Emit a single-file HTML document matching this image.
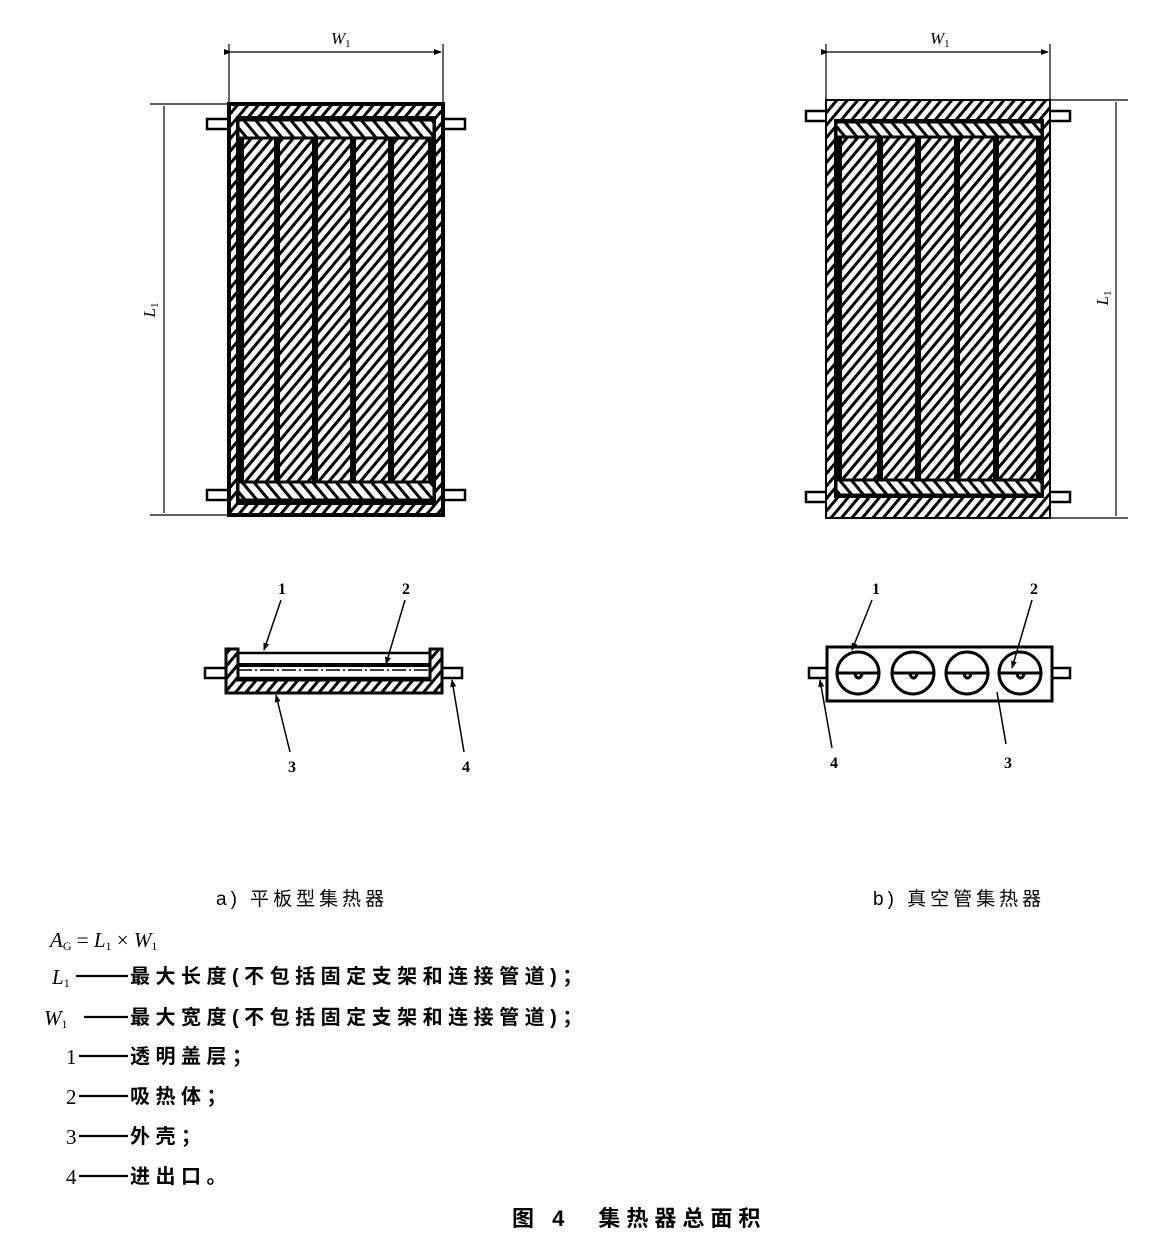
<!DOCTYPE html>
<html><head><meta charset="utf-8"><style>
html,body{margin:0;padding:0;background:#fff;}
svg{display:block}
text{font-family:"Liberation Serif","Noto Serif CJK SC",serif;fill:#000}
text.cj{font-family:"Liberation Sans","Noto Sans CJK SC",sans-serif;font-weight:bold}
</style></head><body>
<svg width="1175" height="1243" viewBox="0 0 1175 1243" xmlns="http://www.w3.org/2000/svg">
<defs>
<pattern id="h" width="8" height="8" patternUnits="userSpaceOnUse" patternTransform="rotate(40)">
<rect width="8" height="8" fill="#fff"/><rect x="0" y="0" width="3" height="8" fill="#000"/></pattern>
<pattern id="h2" width="9" height="9" patternUnits="userSpaceOnUse" patternTransform="rotate(-40)">
<rect width="9" height="9" fill="#fff"/><rect x="0" y="0" width="3" height="9" fill="#000"/></pattern>
<marker id="ar" markerWidth="8" markerHeight="8" refX="7" refY="4" orient="auto" markerUnits="userSpaceOnUse"><path d="M0,1 L8,4 L0,7 z" fill="#000"/></marker>
</defs>
<g stroke="#000" fill="none">
<line x1="229" y1="44" x2="229" y2="104" stroke-width="1.2"/>
<line x1="443" y1="44" x2="443" y2="104" stroke-width="1.2"/>
<line x1="231" y1="52" x2="441" y2="52" stroke-width="1.2" marker-end="url(#ar)" marker-start="url(#ar)"/>
<line x1="150" y1="104" x2="229" y2="104" stroke-width="1.2"/>
<line x1="150" y1="515" x2="229" y2="515" stroke-width="1.2"/>
<line x1="164" y1="106" x2="164" y2="513" stroke-width="1.2"/>
<rect x="207" y="119" width="24" height="10" fill="#fff" stroke-width="2.5"/>
<rect x="441" y="119" width="24" height="10" fill="#fff" stroke-width="2.5"/>
<rect x="207" y="490" width="24" height="10" fill="#fff" stroke-width="2.5"/>
<rect x="441" y="490" width="24" height="10" fill="#fff" stroke-width="2.5"/>
<rect x="229" y="104" width="214" height="411" fill="url(#h)" stroke-width="4"/>
<rect x="238" y="118" width="196" height="385" fill="url(#h)" stroke-width="4"/>
<rect x="238" y="120" width="196" height="18" fill="url(#h2)" stroke-width="3"/>
<rect x="238" y="482" width="196" height="18" fill="url(#h2)" stroke-width="3"/>
<g fill="#000" stroke="none">
<rect x="238" y="138" width="6" height="344"/>
<rect x="274" y="138" width="6" height="344"/>
<rect x="312" y="138" width="6" height="344"/>
<rect x="350" y="138" width="6" height="344"/>
<rect x="388" y="138" width="6" height="344"/>
<rect x="428" y="138" width="6" height="344"/>
</g>
<line x1="826" y1="44" x2="826" y2="100" stroke-width="1.2"/>
<line x1="1050" y1="44" x2="1050" y2="100" stroke-width="1.2"/>
<line x1="828" y1="52" x2="1048" y2="52" stroke-width="1.2" marker-end="url(#ar)" marker-start="url(#ar)"/>
<line x1="1050" y1="100" x2="1128" y2="100" stroke-width="1.2"/>
<line x1="1050" y1="518" x2="1128" y2="518" stroke-width="1.2"/>
<line x1="1116" y1="102" x2="1116" y2="516" stroke-width="1.2"/>
<rect x="806" y="111" width="22" height="10" fill="#fff" stroke-width="2.5"/>
<rect x="1048" y="111" width="22" height="10" fill="#fff" stroke-width="2.5"/>
<rect x="806" y="492" width="22" height="10" fill="#fff" stroke-width="2.5"/>
<rect x="1048" y="492" width="22" height="10" fill="#fff" stroke-width="2.5"/>
<rect x="826" y="100" width="224" height="418" fill="url(#h)" stroke-width="2"/>
<rect x="836" y="121" width="206" height="375" fill="url(#h)" stroke-width="4"/>
<rect x="836" y="122" width="206" height="15" fill="url(#h2)" stroke-width="3"/>
<rect x="836" y="480" width="206" height="15" fill="url(#h2)" stroke-width="3"/>
<g fill="#000" stroke="none">
<rect x="836" y="137" width="6" height="343"/>
<rect x="877" y="137" width="6" height="343"/>
<rect x="915" y="137" width="6" height="343"/>
<rect x="954" y="137" width="6" height="343"/>
<rect x="993" y="137" width="6" height="343"/>
<rect x="1036" y="137" width="6" height="343"/>
</g>
<rect x="205" y="668" width="22" height="10" fill="#fff" stroke-width="2.5"/>
<rect x="440" y="668" width="22" height="10" fill="#fff" stroke-width="2.5"/>
<path d="M226,649 H238 V680 H430 V649 H442 V693 H226 Z" fill="url(#h)" stroke-width="3"/>
<line x1="238" y1="653" x2="430" y2="653" stroke-width="2.5"/>
<line x1="238" y1="665" x2="430" y2="665" stroke-width="4"/>
<line x1="238" y1="670" x2="430" y2="670" stroke-width="1.5" stroke-dasharray="14 3 2 3"/>
<line x1="238" y1="678" x2="430" y2="678" stroke-width="2.5"/>
<line x1="281" y1="600" x2="264" y2="650" stroke-width="1.5" marker-end="url(#ar)"/>
<line x1="405" y1="600" x2="386" y2="664" stroke-width="1.5" marker-end="url(#ar)"/>
<line x1="290" y1="752" x2="276" y2="695" stroke-width="1.5" marker-end="url(#ar)"/>
<line x1="464" y1="752" x2="452" y2="680" stroke-width="1.5" marker-end="url(#ar)"/>
<rect x="809" y="668" width="19" height="10" fill="#fff" stroke-width="2.5"/>
<rect x="1051" y="668" width="19" height="10" fill="#fff" stroke-width="2.5"/>
<rect x="827" y="647" width="225" height="54" fill="#fff" stroke-width="3"/>
<g stroke-width="3">
<circle cx="858" cy="673" r="21"/><line x1="837" y1="673" x2="879" y2="673"/><path d="M855,673 a3.5,5 0 0 0 7,0"/>
<circle cx="913" cy="673" r="21"/><line x1="892" y1="673" x2="934" y2="673"/><path d="M910,673 a3.5,5 0 0 0 7,0"/>
<circle cx="967" cy="673" r="21"/><line x1="946" y1="673" x2="988" y2="673"/><path d="M964,673 a3.5,5 0 0 0 7,0"/>
<circle cx="1020" cy="673" r="21"/><line x1="999" y1="673" x2="1041" y2="673"/><path d="M1017,673 a3.5,5 0 0 0 7,0"/>
</g>
<line x1="872" y1="600" x2="852" y2="650" stroke-width="1.5" marker-end="url(#ar)"/>
<line x1="1032" y1="600" x2="1012" y2="668" stroke-width="1.5" marker-end="url(#ar)"/>
<line x1="832" y1="748" x2="820" y2="680" stroke-width="1.5" marker-end="url(#ar)"/>
<line x1="1006" y1="744" x2="997" y2="692" stroke-width="1.5"/>
<g stroke-width="2.2">
<line x1="76" y1="976" x2="128" y2="976"/>
<line x1="84" y1="1017" x2="128" y2="1017"/>
<line x1="79" y1="1056" x2="128" y2="1056"/>
<line x1="79" y1="1096" x2="128" y2="1096"/>
<line x1="79" y1="1136" x2="128" y2="1136"/>
<line x1="79" y1="1176" x2="128" y2="1176"/>
</g>
</g>
<g font-size="16" font-weight="bold">
<text x="282" y="594" text-anchor="middle">1</text>
<text x="406" y="594" text-anchor="middle">2</text>
<text x="292" y="772" text-anchor="middle">3</text>
<text x="466" y="772" text-anchor="middle">4</text>
<text x="876" y="594" text-anchor="middle">1</text>
<text x="1034" y="594" text-anchor="middle">2</text>
<text x="834" y="768" text-anchor="middle">4</text>
<text x="1008" y="768" text-anchor="middle">3</text>
</g>
<g font-size="17" font-style="italic">
<text x="331" y="44">W<tspan font-size="11" dy="3" font-style="normal">1</tspan></text>
<text x="930" y="44">W<tspan font-size="11" dy="3" font-style="normal">1</tspan></text>
<text transform="translate(155,310) rotate(-90)" text-anchor="middle">L<tspan font-size="11" dy="3" font-style="normal">1</tspan></text>
<text transform="translate(1108,298) rotate(-90)" text-anchor="middle">L<tspan font-size="11" dy="3" font-style="normal">1</tspan></text>
</g>
<text x="216" y="905" font-size="19" class="cj" style="font-weight:normal" letter-spacing="4">a) 平板型集热器</text>
<text x="873" y="905" font-size="19" class="cj" style="font-weight:normal" letter-spacing="4">b) 真空管集热器</text>
<g font-size="21">
<text x="50" y="947"><tspan font-style="italic">A</tspan><tspan font-size="12" dy="3">G</tspan><tspan dy="-3"> = </tspan><tspan font-style="italic">L</tspan><tspan font-size="12" dy="3">1</tspan><tspan dy="-3"> × </tspan><tspan font-style="italic">W</tspan><tspan font-size="12" dy="3">1</tspan></text>
<text x="52" y="984"><tspan font-style="italic">L</tspan><tspan font-size="12" dy="3">1</tspan></text>
<text x="44" y="1025"><tspan font-style="italic">W</tspan><tspan font-size="12" dy="3">1</tspan></text>
<text x="66" y="1064">1</text>
<text x="66" y="1104">2</text>
<text x="66" y="1144">3</text>
<text x="66" y="1184">4</text>
</g>
<g font-size="20" letter-spacing="5.5">
<text class="cj" x="130" y="983">最大长度(不包括固定支架和连接管道)；</text>
<text class="cj" x="130" y="1024">最大宽度(不包括固定支架和连接管道)；</text>
<text class="cj" x="130" y="1063">透明盖层；</text>
<text class="cj" x="130" y="1103">吸热体；</text>
<text class="cj" x="130" y="1143">外壳；</text>
<text class="cj" x="130" y="1183">进出口。</text>
</g>
<text x="512" y="1226" font-size="22" class="cj" letter-spacing="6">图 4　集热器总面积</text>
</svg>
</body></html>
